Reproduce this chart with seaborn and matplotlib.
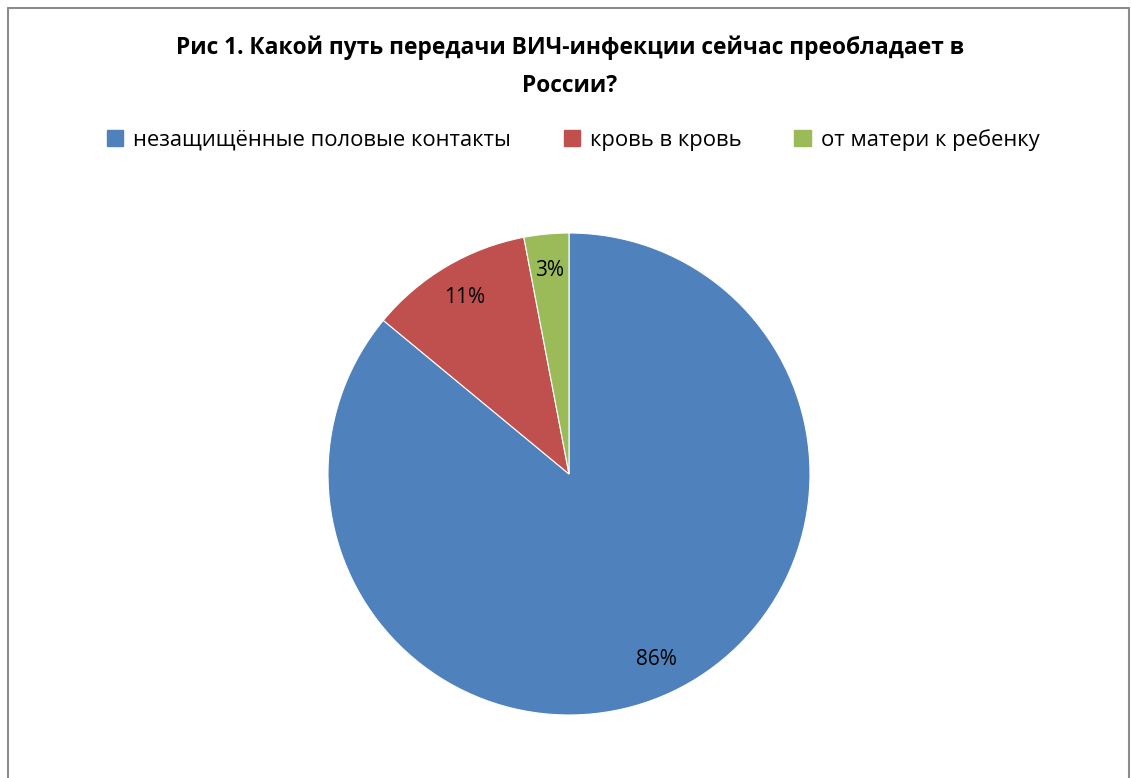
import matplotlib
matplotlib.use("Agg")
import matplotlib.pyplot as plt
import seaborn as sns
from matplotlib.lines import Line2D
from matplotlib.patches import Patch

categories = ["незащищённые половые контакты", "кровь в кровь", "от матери к ребенку"]
values = [86, 11, 3]
colors = ["#4F81BD", "#C0504D", "#9BBB59"]
title = "Рис 1. Какой путь передачи ВИЧ-инфекции сейчас преобладает в\nРоссии?"

sns.set_theme(style="white")
plt.rcParams['font.family'] = ['Open Sans', 'DejaVu Sans']
plt.rcParams['text.color'] = 'black'

W, H = 1132, 778
fig = plt.figure(figsize=(W / 100, H / 100), dpi=100)
fig.patch.set_facecolor("white")

cx, cy, r = 569, 474, 241
ax = fig.add_axes([(cx - r) / W, (H - cy - r) / H, 2 * r / W, 2 * r / H])
wedges, texts, autotexts = ax.pie(
    values, colors=colors, startangle=90, counterclock=False,
    autopct=lambda p: f"{p:.0f}%", pctdistance=0.85,
    wedgeprops=dict(edgecolor="white", linewidth=0.8),
    textprops=dict(fontsize=15, color="black"))
ax.set_xlim(-1, 1)
ax.set_ylim(-1, 1)
ax.set_aspect("equal")
ax.axis("off")

fig.text(570 / W, 1 - 67 / H, title, ha="center", va="center", color="black",
         fontsize=16.4, fontweight="bold", linespacing=1.75)

handles = [Patch(facecolor=c, edgecolor=c) for c in colors]
leg = fig.legend(handles, categories, loc="center", bbox_to_anchor=(573 / W, 1 - 140 / H),
                 ncol=3, frameon=False, fontsize=15.8, handlelength=0.75, handleheight=0.75,
                 handletextpad=0.45, columnspacing=2.4)
for t in leg.get_texts():
    t.set_color("black")

# chart border (left, top, right)
bc = "#8c8c8c"
x0, x1, y0 = 8 / W, 1129 / W, 1 - 8 / H
fig.add_artist(Line2D([x0, x0], [0, y0], transform=fig.transFigure, color=bc, lw=1.5))
fig.add_artist(Line2D([x0, x1], [y0, y0], transform=fig.transFigure, color=bc, lw=1.5))
fig.add_artist(Line2D([x1, x1], [0, y0], transform=fig.transFigure, color=bc, lw=1.5))

fig.savefig("out.png", dpi=100)
